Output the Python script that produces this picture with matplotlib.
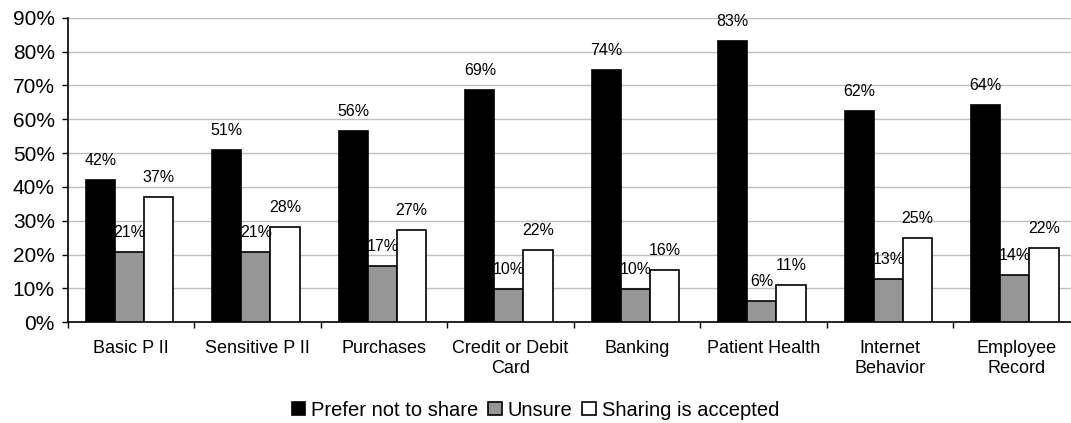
import numpy as np
import matplotlib.pyplot as plt
from matplotlib.ticker import FixedLocator, PercentFormatter

categories = ['Basic P II', 'Sensitive P II', 'Purchases', 'Credit or Debit\nCard',
              'Banking', 'Patient Health', 'Internet\nBehavior', 'Employee\nRecord']
prefer_not = [42, 51, 56.5, 68.7, 74.5, 83.1, 62.4, 64.2]
unsure = [20.7, 20.7, 16.7, 9.8, 9.8, 6.3, 12.7, 13.9]
accepted = [36.9, 28.3, 27.2, 21.4, 15.5, 10.9, 24.9, 22.0]
labels_prefer = ['42%', '51%', '56%', '69%', '74%', '83%', '62%', '64%']
labels_unsure = ['21%', '21%', '17%', '10%', '10%', '6%', '13%', '14%']
labels_accepted = ['37%', '28%', '27%', '22%', '16%', '11%', '25%', '22%']

plt.rcParams['font.family'] = ['Liberation Sans', 'DejaVu Sans']

fig = plt.figure(figsize=(10.71, 4.23), dpi=100)
ax = fig.add_axes([67.7 / 1071, 1 - 322.3 / 423, 1012 / 1071, (322.3 - 17.7) / 423])

x = np.arange(len(categories))
w = 0.23
series = [(prefer_not, labels_prefer, 'black', 'Prefer not to share'),
          (unsure, labels_unsure, '#969696', 'Unsure'),
          (accepted, labels_accepted, 'white', 'Sharing is accepted')]
for i, (vals, labs, col, name) in enumerate(series):
    pos = x + (i - 1) * w - 0.012
    ax.bar(pos, vals, w, color=col, edgecolor='black', linewidth=1.2,
           label=name, zorder=3)
    for p, v, t in zip(pos, vals, labs):
        ax.annotate(t, (p, v), xytext=(0, 14), textcoords='offset points',
                    ha='center', va='center', fontsize=11.5, zorder=4)

ax.set_xlim(-0.5, len(categories) - 0.5)
ax.set_ylim(0, 90)
ax.set_yticks(np.arange(0, 91, 10))
ax.yaxis.set_major_formatter(PercentFormatter(decimals=0))
ax.tick_params(axis='y', labelsize=15, length=4.3, pad=5, direction='out', width=1)
ax.grid(axis='y', color='#c0c0c0', linewidth=1, zorder=0)

ax.xaxis.set_major_locator(FixedLocator(np.arange(-0.5, len(categories), 1)))
ax.xaxis.set_minor_locator(FixedLocator(x))
ax.set_xticklabels([], minor=False)
ax.set_xticklabels(categories, minor=True, fontsize=13, va='top', linespacing=1.25)
ax.tick_params(axis='x', which='major', length=4.3, width=1)
ax.tick_params(axis='x', which='minor', length=0, pad=12.5)

for s in ['top', 'right']:
    ax.spines[s].set_visible(False)
ax.spines['left'].set_linewidth(1.2)
ax.spines['bottom'].set_linewidth(1.2)

fig.legend(loc='center', bbox_to_anchor=(0.5, 1 - 410 / 423), ncol=3, frameon=False,
           fontsize=14.5, handlelength=0.65, handleheight=0.65, handletextpad=0.3,
           columnspacing=0.5)

fig.savefig('out.png', dpi=100)
